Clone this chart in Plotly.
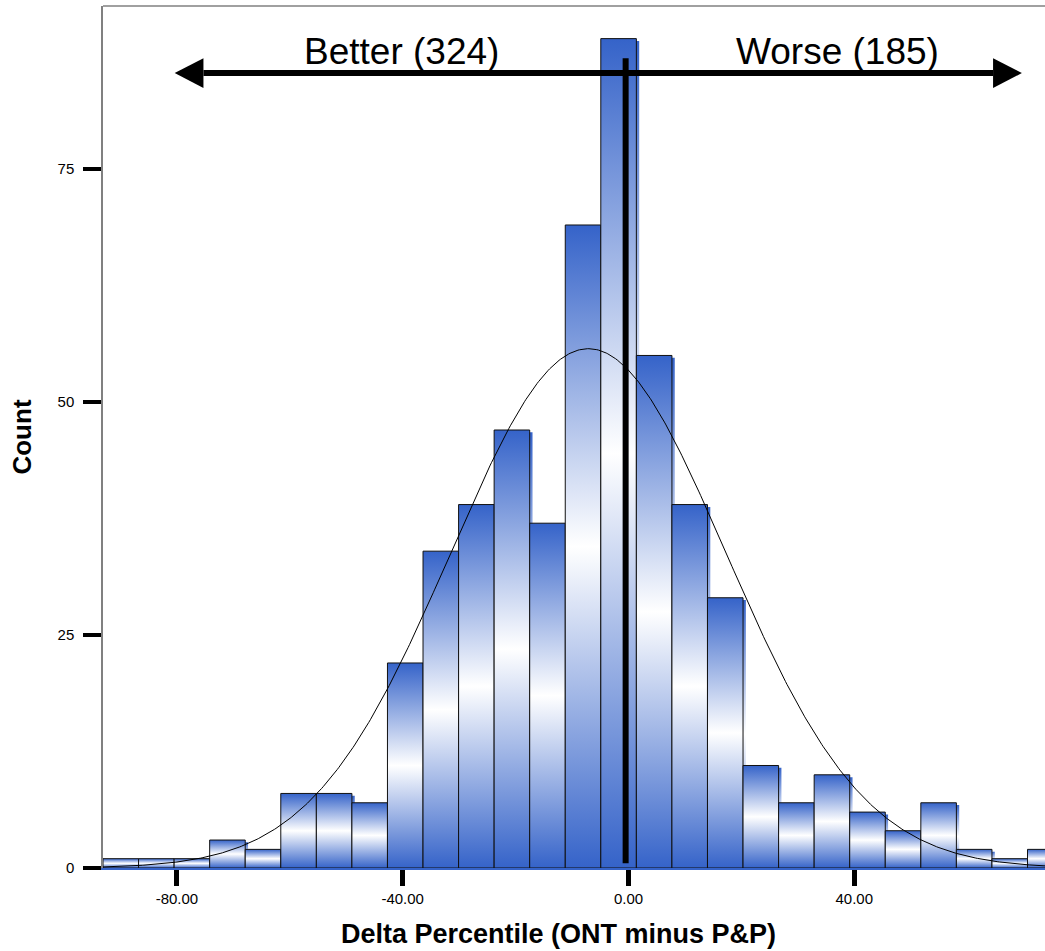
import numpy as np
import plotly.graph_objects as go

# ---------------- data ----------------
counts = [1, 1, 1, 3, 2, 8, 8, 7, 22, 34, 39, 47, 37, 69, 89, 55, 39, 29,
          11, 7, 10, 6, 4, 7, 2, 1, 2]
bin_start = -93.1
bin_width = 6.30
x_ticks = [-80, -40, 0, 40]
x_tick_labels = ["-80.00", "-40.00", "0.00", "40.00"]
y_ticks = [0, 25, 50, 75]
y_tick_labels = ["0", "25", "50", "75"]
normal_mean = -7.1
normal_sd = 24.4
better_label = "Better (324)"
worse_label = "Worse (185)"
x_title = "Delta Percentile (ONT minus P&P)"
y_title = "Count"

# ---------------- styling / layout constants ----------------
X_RANGE = [-93.1, 73.8]
Y_RANGE = [0, 92.5]
BLUE = "#3563C9"
FONT = "Liberation Sans, Arial, sans-serif"
ARROW_Y = 85.3
ARROW_LEFT = -80.4
ARROW_RIGHT = 69.7
HEAD_LEN = 5.1
HEAD_HALF = 1.6
VLINE_X = -0.5
VLINE_Y = [0.5, 86.9]
SHADOW_DX = 0.5
SHADOW_DY = 0.25
XTITLE_POS = (0.4832, -0.0766)

grad = dict(type="vertical",
            colorscale=[[0, BLUE], [0.5, "#ffffff"], [1, BLUE]])

fig = go.Figure()

# shadows
for i, c in enumerate(counts):
    left = bin_start + i * bin_width + SHADOW_DX
    right = left + bin_width
    top = c - SHADOW_DY
    fig.add_trace(go.Scatter(
        x=[left, left, right, right, left], y=[0, top, top, 0, 0],
        mode="lines", fill="toself", fillgradient=grad,
        line=dict(width=0, color="rgba(0,0,0,0)"),
        hoverinfo="skip", showlegend=False))

# bars
for i, c in enumerate(counts):
    left = bin_start + i * bin_width
    right = left + bin_width
    fig.add_trace(go.Scatter(
        x=[left, left, right, right, left], y=[0, c, c, 0, 0],
        mode="lines", fill="toself", fillgradient=grad,
        line=dict(width=1, color="#111111"),
        hoverinfo="skip", showlegend=False))

# normal curve
n_total = sum(counts)
xs = np.linspace(X_RANGE[0], X_RANGE[1], 600)
ys = n_total * bin_width / (normal_sd * np.sqrt(2 * np.pi)) * np.exp(
    -0.5 * ((xs - normal_mean) / normal_sd) ** 2)
fig.add_trace(go.Scatter(x=xs, y=ys, mode="lines",
                         line=dict(color="black", width=1),
                         hoverinfo="skip", showlegend=False))

shapes = [
    # top frame
    dict(type="line", xref="paper", yref="paper", x0=0, x1=1, y0=1, y1=1,
         line=dict(color="#808080", width=1.5)),
    # arrow shaft
    dict(type="line", xref="x", yref="y",
         x0=ARROW_LEFT + HEAD_LEN, x1=ARROW_RIGHT - HEAD_LEN,
         y0=ARROW_Y, y1=ARROW_Y, line=dict(color="black", width=6),
         layer="above"),
    # left head
    dict(type="path", xref="x", yref="y",
         path=f"M {ARROW_LEFT},{ARROW_Y} L {ARROW_LEFT + HEAD_LEN},{ARROW_Y + HEAD_HALF} "
              f"L {ARROW_LEFT + HEAD_LEN},{ARROW_Y - HEAD_HALF} Z",
         fillcolor="black", line=dict(width=0), layer="above"),
    # right head
    dict(type="path", xref="x", yref="y",
         path=f"M {ARROW_RIGHT},{ARROW_Y} L {ARROW_RIGHT - HEAD_LEN},{ARROW_Y + HEAD_HALF} "
              f"L {ARROW_RIGHT - HEAD_LEN},{ARROW_Y - HEAD_HALF} Z",
         fillcolor="black", line=dict(width=0), layer="above"),
    # vertical line
    dict(type="line", xref="x", yref="y", x0=VLINE_X, x1=VLINE_X,
         y0=VLINE_Y[0], y1=VLINE_Y[1], line=dict(color="black", width=6),
         layer="above"),
]

annotations = [
    dict(x=-40.3, y=87.6, xref="x", yref="y", text=better_label,
         showarrow=False, xanchor="center", yanchor="middle",
         font=dict(family=FONT, size=37, color="black")),
    dict(x=37.1, y=87.6, xref="x", yref="y", text=worse_label,
         showarrow=False, xanchor="center", yanchor="middle",
         font=dict(family=FONT, size=37, color="black")),
    dict(x=XTITLE_POS[0], y=XTITLE_POS[1], xref="paper", yref="paper",
         text=x_title, showarrow=False, xanchor="center", yanchor="middle",
         font=dict(family=FONT, size=27, color="black", weight="bold")),
]

fig.update_layout(
    width=1045, height=951,
    margin=dict(l=103, r=0, t=6, b=83, pad=0),
    paper_bgcolor="white", plot_bgcolor="white",
    font=dict(family=FONT, color="black"),
    shapes=shapes, annotations=annotations,
    xaxis=dict(range=X_RANGE, showgrid=False, zeroline=False,
               showline=True, linecolor=BLUE, linewidth=2,
               tickmode="array", tickvals=x_ticks, ticktext=x_tick_labels,
               ticks="outside", ticklen=16, tickwidth=5, tickcolor="black",
               tickfont=dict(family=FONT, size=15, color="black")),
    yaxis=dict(range=Y_RANGE, showgrid=False, zeroline=False,
               showline=True, linecolor="#808080", linewidth=1.5,
               tickmode="array", tickvals=y_ticks, ticktext=y_tick_labels,
               ticks="outside", ticklen=18, tickwidth=4, tickcolor="black",
               ticklabelstandoff=6,
               tickfont=dict(family=FONT, size=15, color="black"),
               title=dict(text=y_title, standoff=18,
                          font=dict(family=FONT, size=26, color="black", weight="bold"))),
)

fig.write_html("out.html")
